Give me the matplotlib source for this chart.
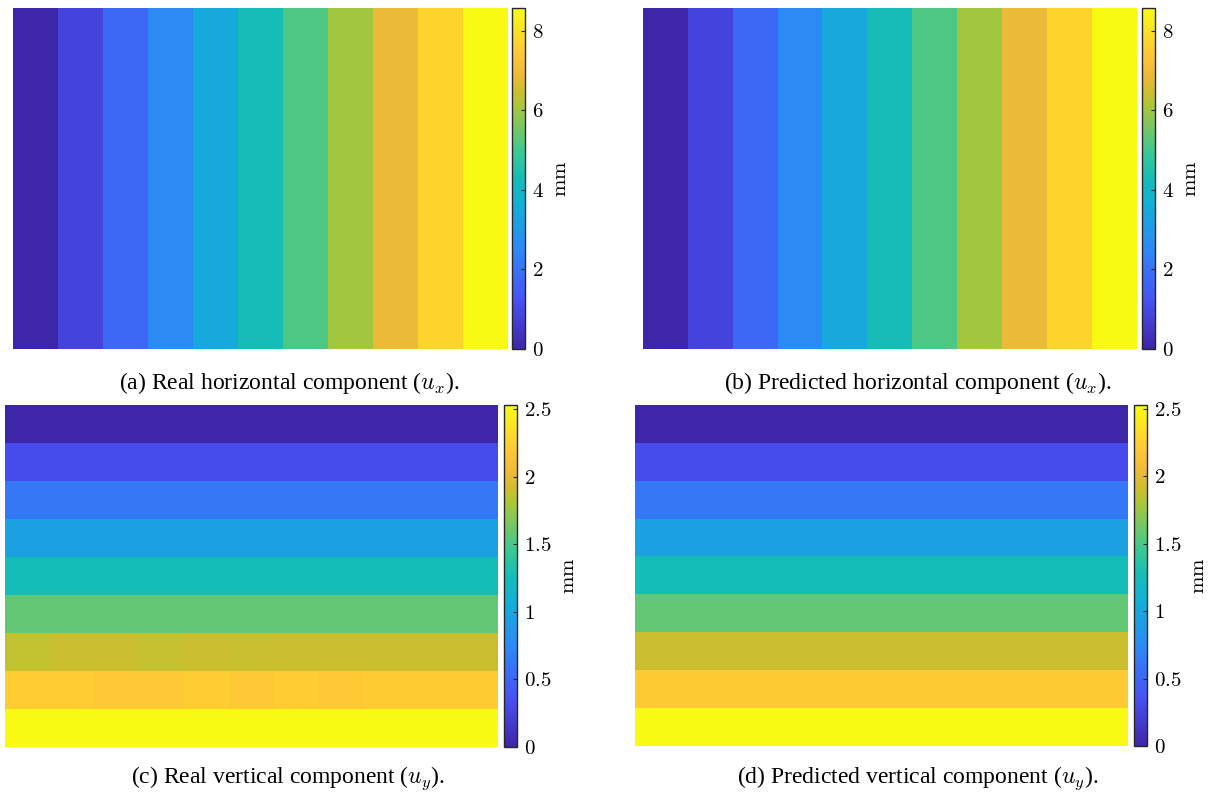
import numpy as np
import matplotlib
matplotlib.use('Agg')
import matplotlib.pyplot as plt
from matplotlib.colors import LinearSegmentedColormap, Normalize
from matplotlib.cm import ScalarMappable

# Displacement field on a 9 x 11 grid (mm)
ux_columns_real = [0.00, 0.86, 1.71, 2.57, 3.43, 4.29, 5.14, 6.00, 6.86, 7.71, 8.57]
ux_columns_pred = [0.00, 0.86, 1.71, 2.57, 3.43, 4.29, 5.14, 6.00, 6.86, 7.71, 8.57]
uy_rows_pred = [0.00, 0.32, 0.63, 0.95, 1.26, 1.58, 1.90, 2.21, 2.53]
uy_real = [
    [0.00] * 11,
    [0.32] * 11,
    [0.63] * 11,
    [0.95] * 11,
    [1.26] * 11,
    [1.58] * 11,
    [1.87, 1.90, 1.90, 1.88, 1.90, 1.89, 1.90, 1.90, 1.90, 1.90, 1.90],
    [2.23, 2.23, 2.20, 2.20, 2.23, 2.20, 2.23, 2.20, 2.22, 2.22, 2.22],
    [2.53] * 11,
]
n_rows = 9

captions = [
    r'(a) Real horizontal component ($u_x$).',
    r'(b) Predicted horizontal component ($u_x$).',
    r'(c) Real vertical component ($u_y$).',
    r'(d) Predicted vertical component ($u_y$).',
]
ux_ticks = [0, 2, 4, 6, 8]
uy_ticks = [0, 0.5, 1, 1.5, 2, 2.5]

# parula-like colormap
parula = LinearSegmentedColormap.from_list('parula', [
    (0.0, (0.2422, 0.1504, 0.6603)),
    (1 / 7, (0.2810, 0.3228, 0.9579)),
    (2 / 7, (0.1786, 0.5289, 0.9682)),
    (3 / 7, (0.0689, 0.6948, 0.8394)),
    (0.50, (0.0800, 0.7400, 0.7200)),
    (4 / 7, (0.2161, 0.7843, 0.5923)),
    (5 / 7, (0.6720, 0.7793, 0.2227)),
    (0.75, (0.7900, 0.7500, 0.1800)),
    (0.80, (0.9200, 0.7300, 0.2200)),
    (6 / 7, (0.9970, 0.7659, 0.2199)),
    (1.0, (0.9769, 0.9839, 0.0805)),
])

plt.rcParams['mathtext.fontset'] = 'cm'
plt.rcParams['font.family'] = ['Liberation Serif', 'DejaVu Serif']

W, H = 1216, 797
fig = plt.figure(figsize=(W / 100, H / 100), dpi=100)


def box(x0, y0, x1, y1):
    return [x0 / W, (H - y1) / H, (x1 - x0) / W, (y1 - y0) / H]


fields = [
    np.tile(ux_columns_real, (n_rows, 1)),
    np.tile(ux_columns_pred, (n_rows, 1)),
    np.array(uy_real),
    np.tile(np.array(uy_rows_pred)[:, None], (1, len(ux_columns_pred))),
]
limits = [(0, 8.57), (0, 8.57), (0, 2.53), (0, 2.53)]
ticks = [ux_ticks, ux_ticks, uy_ticks, uy_ticks]
img_boxes = [(13, 8, 507, 349), (643, 8, 1137, 349),
             (5, 405, 498, 747), (635, 405, 1128, 746)]
cbar_boxes = [(512, 8, 525, 349), (1142, 8, 1155, 349),
              (504, 405, 517, 747), (1134, 405, 1147, 746)]
caption_pos = [(289, 383), (918, 383), (288, 778), (918, 778)]

for field, lim, tk, ib, cb, cap, cp in zip(fields, limits, ticks, img_boxes,
                                           cbar_boxes, captions, caption_pos):
    ax = fig.add_axes(box(*ib))
    norm = Normalize(vmin=lim[0], vmax=lim[1])
    ax.imshow(field, cmap=parula, norm=norm, aspect='auto',
              interpolation='nearest')
    ax.axis('off')

    cax = fig.add_axes(box(*cb))
    cbar = fig.colorbar(ScalarMappable(norm=norm, cmap=parula), cax=cax)
    cbar.outline.set_edgecolor('#262626')
    cbar.outline.set_linewidth(1.0)
    cbar.set_ticks(tk)
    cbar.set_ticklabels([f'${t:g}$' for t in tk])
    cax.tick_params(axis='y', direction='in', length=3, width=0.8,
                    color='#262626', labelsize=15, pad=5)
    cbar.set_label(r'$\mathrm{mm}$', fontsize=15, labelpad=6)

    fig.text(cp[0] / W, 1 - cp[1] / H, cap, ha='center', va='center',
             fontsize=17)

fig.savefig('out.png', dpi=100)
